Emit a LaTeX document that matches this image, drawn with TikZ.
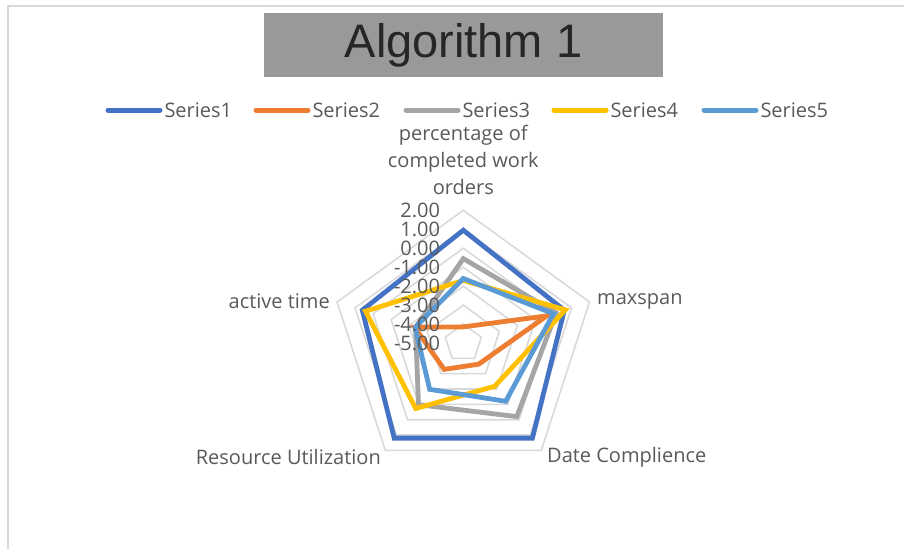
\documentclass[tikz,border=0pt]{standalone}
\usepackage{fontspec}
\setmainfont{Open Sans}
\newfontfamily\titlefont{Liberation Sans}
\definecolor{sera}{HTML}{4472C4}
\definecolor{serb}{HTML}{ED7D31}
\definecolor{serc}{HTML}{A5A5A5}
\definecolor{serd}{HTML}{FFC000}
\definecolor{sere}{HTML}{5B9BD5}
\definecolor{gridgray}{HTML}{D9D9D9}
\definecolor{labelgray}{HTML}{595959}
\definecolor{titlegray}{HTML}{999999}
\definecolor{titletext}{HTML}{262626}
\begin{document}
\begin{tikzpicture}[x=1pt, y=1pt, font=\fontsize{20}{27}\selectfont,
  ring/.style={draw=gridgray, line width=1.6pt},
  series/.style={line width=4.8pt},
  axislabel/.style={text=labelgray, inner sep=0pt}]
\useasboundingbox (0,0) rectangle (904,-549);
\def\u{18.96}

% moldura
\draw[gridgray, line width=2.5pt] (8,-549) -- (8,-6) -- (904,-6);

% titulo
\node[fill=titlegray, minimum width=399pt, minimum height=64pt, inner sep=0pt,
  text=titletext, font=\titlefont\fontsize{47}{47}\selectfont] (title) at (463.5,-45) {Algorithm 1};

% legenda
\foreach \n/\x/\c in {1/108/sera, 2/256/serb, 3/406/serc, 4/554/serd, 5/704/sere} {
  \draw[\c, line width=5pt, line cap=round] (\x,-110) -- ++(52,0)
    node[right, axislabel, xshift=2pt] (leg\n) {Series\n};
}

\begin{scope}[shift={(463.3,-343)}]
  % aneis
  \foreach \k in {1,...,7}
    \draw[ring] (90:\k*\u) -- (18:\k*\u) -- (-54:\k*\u) -- (-126:\k*\u) -- (162:\k*\u) -- cycle;

  % series
  \foreach \c/\a/\b/\d/\e/\f in {sera/5.95/5.6/6.2/6.2/5.6,
                                serb/0.85/4.63/1.38/1.72/2.7,
                                serc/4.45/5.15/4.8/4.02/2.65,
                                serd/3.3/5.66/2.82/4.27/5.42,
                                sere/3.4/5.0/3.8/3.02/2.67}
    \draw[series, \c] (90:{\a*\u}) -- (18:{\b*\u}) -- (-54:{\d*\u})
      -- (-126:{\e*\u}) -- (162:{\f*\u}) -- cycle;

  % escala (por cima das series)
  \foreach \k/\v in {0/-5.00, 1/-4.00, 2/-3.00, 3/-2.00, 4/-1.00, 5/0.00, 6/1.00, 7/2.00}
    \node[axislabel, anchor=east] (tick\k) at (-23,\k*\u) {\v};
\end{scope}

% rotulos dos eixos
\node[axislabel, align=center] (orders) at (463.3,-160) {percentage of\\completed work\\orders};
\node[axislabel, anchor=west] (maxspan) at (597,-301) {maxspan};
\node[axislabel, anchor=west] (date) at (547,-457) {Date Complience};
\node[axislabel, anchor=east] (resource) at (381,-457) {Resource Utilization};
\node[axislabel, anchor=east] (active) at (330,-301) {active time};
\end{tikzpicture}
\end{document}
